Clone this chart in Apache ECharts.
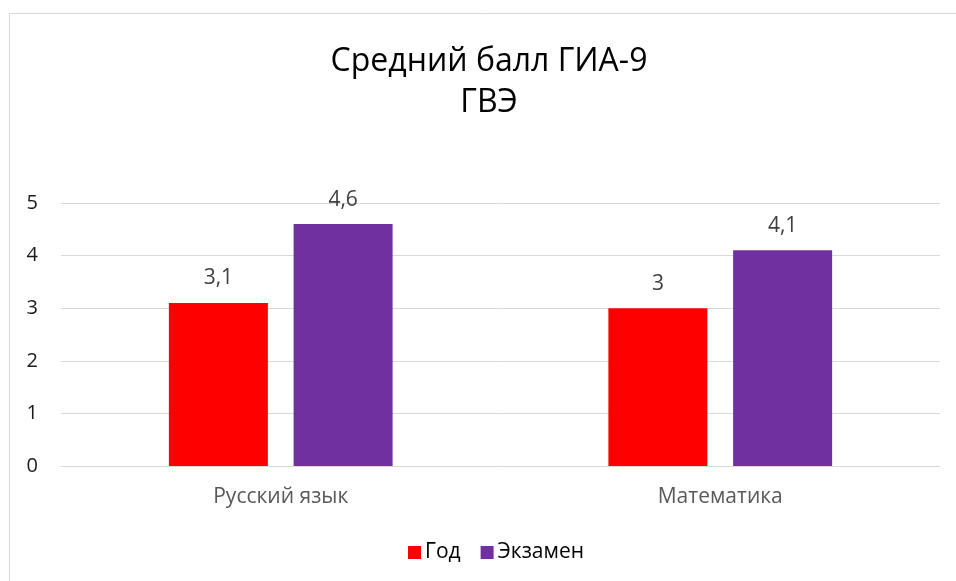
<!doctype html>
<html>
<head>
    <meta charset="utf-8">
    <title>Средний балл ГИА-9</title>
    <script src="https://cdn.jsdelivr.net/npm/echarts@6/dist/echarts.min.js"></script>
</head>
<body style="margin:0;">
<div id="chart" style="width: 956px; height: 581px;"></div>
<script type="text/javascript">
    var categories = ['Русский язык', 'Математика'];
    var yearValues = [3.1, 3];
    var examValues = [4.6, 4.1];
    var yTicks = [0, 1, 2, 3, 4, 5];

    var fmt = function (p) {
        return String(p.value).replace('.', ',');
    };

    var myChart = echarts.init(document.getElementById('chart'));

    var option = {
        textStyle: { fontFamily: 'Open Sans' },
        title: {
            text: 'Средний балл ГИА-9\nГВЭ',
            left: 484,
            top: 36,
            textAlign: 'center',
            textStyle: {
                fontFamily: 'Open Sans',
                fontSize: 32,
                fontWeight: 'normal',
                color: '#000000',
                lineHeight: 41
            }
        },
        legend: {
            top: 537,
            left: 403,
            itemWidth: 13,
            itemHeight: 13,
            itemGap: 20,
            icon: 'rect',
            textStyle: { fontSize: 21, color: '#000000', fontFamily: 'Open Sans', padding: [0, 0, 0, -1] },
            data: ['Год', 'Экзамен']
        },
        graphic: [
            { type: 'line', shape: { x1: 9.5, y1: 13.5, x2: 956, y2: 13.5 }, style: { stroke: '#d9d9d9', lineWidth: 1 } },
            { type: 'line', shape: { x1: 9.5, y1: 13.5, x2: 9.5, y2: 581 }, style: { stroke: '#d9d9d9', lineWidth: 1 } }
        ],
        grid: { left: 61, right: 16, top: 203, bottom: 115 },
        xAxis: {
            type: 'category',
            data: categories,
            axisLine: { lineStyle: { color: '#d9d9d9' } },
            axisTick: { show: false },
            axisLabel: { fontSize: 21, color: '#595959', margin: 21 }
        },
        yAxis: {
            type: 'value',
            min: yTicks[0],
            max: yTicks[yTicks.length - 1],
            interval: 1,
            axisLine: { show: false },
            axisTick: { show: false },
            axisLabel: { fontSize: 20, color: '#1a1a1a', margin: 23 },
            splitLine: { lineStyle: { color: '#d9d9d9', width: 1 } }
        },
        series: [
            {
                name: 'Год',
                type: 'bar',
                data: yearValues,
                barWidth: 99,
                barGap: '26%',
                itemStyle: { color: '#ff0000' },
                label: { show: true, position: 'top', distance: 14, fontSize: 21, color: '#404040', formatter: fmt }
            },
            {
                name: 'Экзамен',
                type: 'bar',
                data: examValues,
                barWidth: 99,
                itemStyle: { color: '#7030a0' },
                label: { show: true, position: 'top', distance: 14, fontSize: 21, color: '#404040', formatter: fmt }
            }
        ]
    };

    myChart.setOption(option);
</script>
</body>
</html>
